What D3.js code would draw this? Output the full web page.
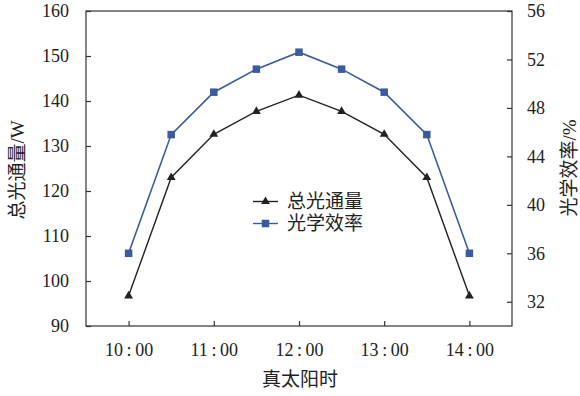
<!DOCTYPE html>
<html><head><meta charset="utf-8">
<script src="https://cdn.jsdelivr.net/npm/d3@7"></script>
<style>body{margin:0;background:#fff}svg{display:block}</style>
</head><body>
<script>
const times = [10, 10.5, 11, 11.5, 12, 12.5, 13, 13.5, 14];
const totalFlux = [96.7, 123.0, 132.6, 137.7, 141.3, 137.7, 132.6, 123.0, 96.7];
const efficiency = [36.0, 45.8, 49.3, 51.2, 52.6, 51.2, 49.3, 45.8, 36.0];
const xTicks = [10, 11, 12, 13, 14];
const xTickLabels = ["10:00", "11:00", "12:00", "13:00", "14:00"];
const leftTicks = [90, 100, 110, 120, 130, 140, 150, 160];
const rightTicks = [32, 36, 40, 44, 48, 52, 56];
const seriesNames = ["总光通量", "光学效率"];

const W = 580, H = 396;
const m = {l: 86, r: 512, t: 11, b: 326};
const font = "'Liberation Serif','Times New Roman','Noto Sans CJK SC',serif";
const axisColor = "#333";
const blue = "#3b5b9f";
const black = "#222";

const svg = d3.select("body").append("svg").attr("width", W).attr("height", H);
const x = d3.scaleLinear().domain([9.5, 14.5]).range([m.l, m.r]);
const yL = d3.scaleLinear().domain([90, 160]).range([m.b, m.t]);
const yR = d3.scaleLinear().domain([30, 56]).range([m.b, m.t]);

// frame
svg.append("rect").attr("x", m.l).attr("y", m.t).attr("width", m.r - m.l).attr("height", m.b - m.t)
  .attr("fill", "none").attr("stroke", axisColor).attr("stroke-width", 1.2);

function styleAxis(g) {
  g.select(".domain").remove();
  g.selectAll("line").attr("stroke", axisColor).attr("stroke-width", 1.2);
  g.selectAll("text").attr("font-family", font).attr("font-size", 18).attr("fill", "#222");
}

svg.append("g").attr("transform", `translate(${m.l},0)`)
  .call(d3.axisLeft(yL).tickValues(leftTicks).tickSize(-5).tickPadding(17))
  .call(styleAxis);
svg.append("g").attr("transform", `translate(${m.r},0)`)
  .call(d3.axisRight(yR).tickValues(rightTicks).tickSize(-5).tickPadding(15))
  .call(styleAxis);
svg.append("g").attr("transform", `translate(0,${m.b})`)
  .call(d3.axisBottom(x).tickValues(xTicks)
    .tickFormat((d, i) => xTickLabels[i].replace(":", "\u2009:\u2009")).tickSize(-5).tickPadding(17))
  .call(styleAxis);

// axis titles
svg.append("text").attr("transform", `translate(24,170) rotate(-90)`).attr("text-anchor", "middle")
  .attr("font-family", font).attr("font-size", 19).attr("fill", "#222").text("总光通量/W");
svg.append("text").attr("transform", `translate(576,168) rotate(-90)`).attr("text-anchor", "middle")
  .attr("font-family", font).attr("font-size", 19).attr("fill", "#222").text("光学效率/%");
svg.append("text").attr("x", 300).attr("y", 386).attr("text-anchor", "middle")
  .attr("font-family", font).attr("font-size", 19).attr("fill", "#222").text("真太阳时");

// lines
const lineL = d3.line().x((d, i) => x(times[i])).y(d => yL(d));
const lineR = d3.line().x((d, i) => x(times[i])).y(d => yR(d));
svg.append("path").attr("d", lineR(efficiency)).attr("fill", "none").attr("stroke", blue).attr("stroke-width", 1.6);
svg.append("path").attr("d", lineL(totalFlux)).attr("fill", "none").attr("stroke", black).attr("stroke-width", 1.4);

const tri = d3.symbol().type(d3.symbolTriangle).size(34);
svg.selectAll(".tri").data(totalFlux).join("path")
  .attr("transform", (d, i) => `translate(${x(times[i])},${yL(d)})`)
  .attr("d", tri()).attr("fill", black);
svg.selectAll(".sq").data(efficiency).join("rect")
  .attr("x", (d, i) => x(times[i]) - 3.75).attr("y", d => yR(d) - 3.75)
  .attr("width", 7.5).attr("height", 7.5).attr("fill", blue);

// legend
const lg = svg.append("g");
[[black, "tri"], [blue, "sq"]].forEach((s, i) => {
  const base = 208 + i * 22;
  const yy = base - 6.5;
  lg.append("line").attr("x1", 253).attr("x2", 278).attr("y1", yy).attr("y2", yy).attr("stroke", s[0]).attr("stroke-width", 1.4);
  if (s[1] === "tri") lg.append("path").attr("transform", `translate(265.5,${yy})`).attr("d", tri()).attr("fill", s[0]);
  else lg.append("rect").attr("x", 261.75).attr("y", yy - 3.75).attr("width", 7.5).attr("height", 7.5).attr("fill", s[0]);
  lg.append("text").attr("x", 287).attr("y", base).attr("font-family", font).attr("font-size", 19)
    .attr("fill", "#222").text(seriesNames[i]);
});
</script>
</body></html>
